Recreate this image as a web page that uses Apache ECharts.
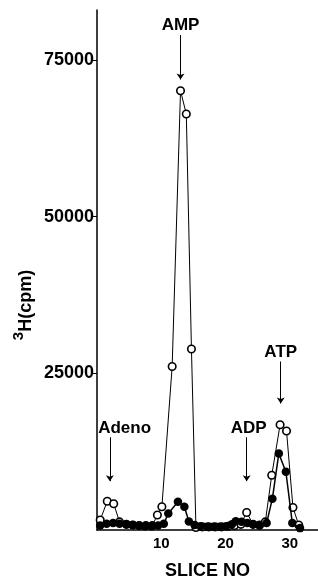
<!DOCTYPE html>
<html lang="en">
	<head>
		<meta charset="UTF-8" />
		<title>Slice profile</title>
		<style>
			html, body { margin: 0; padding: 0; background: #fff; }
			#chart { width: 318px; height: 585px; }
		</style>
	</head>
	<body>
		<div id="chart"></div>
		<script src="https://cdn.jsdelivr.net/npm/echarts@6/dist/echarts.min.js"></script>
		<script>
			// open circles
			const openX = [0.5, 1.6, 2.6, 3.5, 4.6, 5.6, 6.6, 7.6, 8.6, 9.4, 10.1, 11.7, 13.0, 13.9, 14.7, 15.4, 16.4, 17.4, 18.4, 19.4, 20.4, 21.4, 22.4, 23.3, 24.3, 25.3, 26.2, 27.2, 28.5, 29.5, 30.5, 31.4];
			const openY = [1600, 4600, 4200, 1300, 900, 800, 700, 700, 700, 2400, 3700, 26100, 70100, 66400, 28900, 400, 500, 500, 500, 500, 600, 700, 900, 2800, 900, 800, 1300, 8750, 16800, 15800, 3600, 800];
			// filled circles
			const filledX = [0.5, 1.5, 2.5, 3.5, 4.5, 5.5, 6.5, 7.5, 8.5, 9.5, 10.4, 11.1, 12.6, 13.6, 14.3, 15.2, 16.1, 17.1, 18.1, 19.1, 20.1, 21.0, 21.6, 22.5, 23.4, 24.3, 25.3, 26.4, 27.3, 28.3, 29.4, 30.4, 31.6];
			const filledY = [700, 1000, 1100, 1000, 900, 800, 700, 600, 600, 700, 1000, 2650, 4500, 3700, 1350, 800, 600, 500, 500, 500, 600, 900, 1400, 1300, 1100, 900, 700, 1100, 5000, 12200, 9300, 1100, 300];

			const xTicks = [10, 20, 30];
			const yTicks = [25000, 50000, 75000];

			// peak labels: name, x, y (data coords) and arrow from / to
			const peakNames = ["Adeno", "AMP", "ADP", "ATP"];
			const peakLabelX = [4.3, 13.0, 23.6, 28.6];
			const peakLabelY = [16300, 80600, 16300, 28300];
			const arrowX = [2.0, 13.0, 23.3, 28.6];
			const arrowFrom = [14800, 79000, 14800, 26900];
			const arrowTo = [7800, 71900, 7800, 20200];

			const font = "Liberation Sans, Arial, sans-serif";
			const zip = (xs, ys) => xs.map((x, i) => [x, ys[i]]);

			const chart = echarts.init(document.getElementById("chart"));
			chart.setOption({
				animation: false,
				grid: { left: 97, right: 0, top: 10, bottom: 43 },
				xAxis: {
					type: "value",
					min: 0,
					max: 34.4,
					splitLine: { show: false },
					axisLine: { lineStyle: { color: "#000", width: 1.5 } },
					axisTick: { show: false },
					axisLabel: {
						customValues: xTicks,
						color: "#000",
						fontFamily: font,
						fontWeight: "bold",
						fontSize: 15,
						margin: 6
					},
					name: "SLICE NO",
					nameLocation: "middle",
					nameGap: 32,
					nameTextStyle: { color: "#000", fontFamily: font, fontWeight: "bold", fontSize: 18 }
				},
				yAxis: {
					type: "value",
					min: 0,
					max: 83000,
					splitLine: { show: false },
					axisLine: { lineStyle: { color: "#000", width: 1.5 } },
					axisTick: { customValues: yTicks, length: 4, lineStyle: { color: "#000" } },
					axisLabel: {
						customValues: yTicks,
						formatter: (v) => String(v),
						color: "#000",
						fontFamily: font,
						fontWeight: "bold",
						fontSize: 18,
						margin: 3
					}
				},
				graphic: [{
					type: "text",
					x: 23,
					y: 305,
					rotation: Math.PI / 2,
					style: {
						text: "{s|3}{n|H(cpm)}",
						align: "center",
						verticalAlign: "middle",
						fill: "#000",
						rich: {
							s: { fontFamily: font, fontWeight: "bold", fontSize: 15, verticalAlign: "top", lineHeight: 24 },
							n: { fontFamily: font, fontWeight: "bold", fontSize: 18, verticalAlign: "bottom", lineHeight: 24 }
						}
					}
				}],
				series: [
					{
						type: "line",
						data: zip(openX, openY),
						symbol: "circle",
						symbolSize: 7.5,
						lineStyle: { color: "#000", width: 1 },
						itemStyle: { color: "#fff", borderColor: "#000", borderWidth: 1.6 },
						z: 2
					},
					{
						type: "line",
						data: zip(filledX, filledY),
						symbol: "circle",
						symbolSize: 8.5,
						lineStyle: { color: "#000", width: 1.5 },
						itemStyle: { color: "#000" },
						z: 3
					},
					{
						type: "scatter",
						data: peakNames.map((n, i) => [peakLabelX[i], peakLabelY[i], n]),
						symbolSize: 0,
						itemStyle: { opacity: 1 },
						label: {
							show: true,
							position: "inside",
							formatter: (p) => p.data[2],
							color: "#000",
							fontFamily: font,
							fontWeight: "bold",
							fontSize: 17
						},
						markLine: {
							silent: true,
							symbol: ["none", "arrow"],
							symbolSize: 6,
							label: { show: false },
							lineStyle: { color: "#000", width: 1, type: "solid" },
							data: arrowX.map((x, i) => [{ coord: [x, arrowFrom[i]] }, { coord: [x, arrowTo[i]] }])
						},
						z: 4
					}
				]
			});
		</script>
	</body>
</html>
